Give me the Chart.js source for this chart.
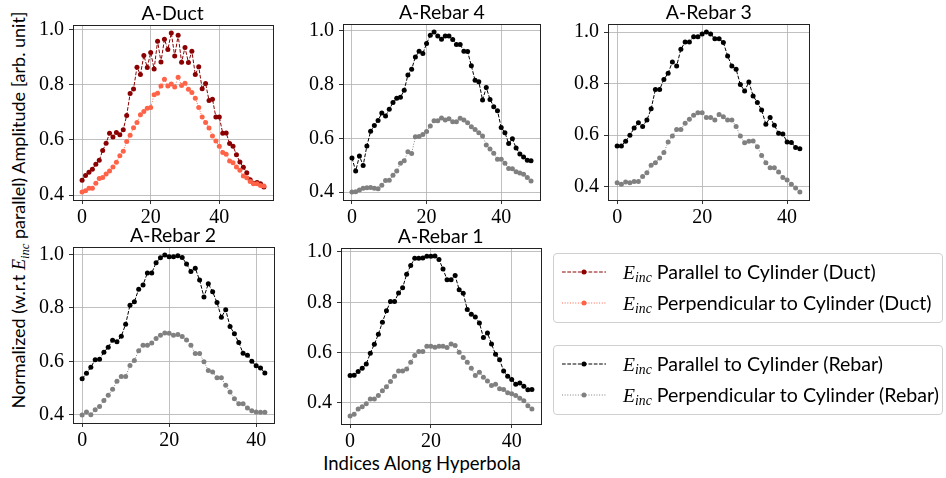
<!DOCTYPE html>
<html>
<head>
<meta charset="utf-8">
<script src="https://cdn.jsdelivr.net/npm/chart.js@4.4.1/dist/chart.umd.min.js"></script>
<style>
  body { margin: 0; background: #fff; width: 946px; height: 478px; position: relative; overflow: hidden; font-family: Lato, "Noto Sans", sans-serif; color: #000; }
  canvas { position: absolute; }
  .title { position: absolute; width: 240px; text-align: center; font-size: 19.5px; line-height: 20px; white-space: nowrap; }
  .ylabel { position: absolute; left: 20px; top: 210px; transform: translate(-50%, -50%) rotate(-90deg); font-size: 18px; white-space: nowrap; }
  .xlabel { position: absolute; left: 422px; top: 452px; transform: translateX(-50%); font-size: 18.5px; white-space: nowrap; }
  .m { font-family: "Liberation Serif", serif; font-style: italic; }
  .m sub { font-size: 0.7em; vertical-align: -0.25em; }
  .legend { position: absolute; left: 553px; width: 388px; border: 1px solid #d0d0d0; border-radius: 4px; }
  .entry { position: absolute; left: 8px; height: 24px; font-size: 19.6px; line-height: 24px; white-space: nowrap; }
  .entry svg { position: absolute; left: 0; top: 7px; }
  .entry span { position: absolute; left: 61px; }
</style>
</head>
<body>
<div class="ylabel">Normalized (w.r.t <span class="m">E<sub>inc</sub></span> parallel) Amplitude [arb. unit]</div>
<div class="xlabel">Indices Along Hyperbola</div>

<script>
// --- DATA ---
const xTicks = [0, 20, 40];
const yTicks = [0.4, 0.6, 0.8, 1.0];
const panelTitles = ["A-Duct", "A-Rebar 4", "A-Rebar 3", "A-Rebar 2", "A-Rebar 1"];
const seriesNames = [
  "Parallel to Cylinder (Duct)",
  "Perpendicular to Cylinder (Duct)",
  "Parallel to Cylinder (Rebar)",
  "Perpendicular to Cylinder (Rebar)",
];

const ductParallel = [0.454, 0.471, 0.483, 0.494, 0.512, 0.526, 0.562, 0.588, 0.624, 0.611, 0.627, 0.619, 0.637, 0.689, 0.768, 0.785, 0.864, 0.837, 0.906, 0.863, 0.917, 0.857, 0.958, 0.883, 0.965, 0.928, 0.988, 0.904, 0.980, 0.882, 0.935, 0.881, 0.922, 0.837, 0.865, 0.786, 0.805, 0.743, 0.748, 0.683, 0.683, 0.624, 0.625, 0.587, 0.577, 0.546, 0.520, 0.501, 0.481, 0.456, 0.443, 0.446, 0.441, 0.429];
const ductPerpendicular = [0.411, 0.416, 0.425, 0.425, 0.443, 0.460, 0.464, 0.476, 0.487, 0.502, 0.519, 0.543, 0.559, 0.594, 0.617, 0.644, 0.663, 0.691, 0.703, 0.715, 0.718, 0.764, 0.769, 0.796, 0.820, 0.796, 0.803, 0.792, 0.827, 0.797, 0.806, 0.784, 0.772, 0.751, 0.718, 0.683, 0.663, 0.643, 0.614, 0.596, 0.577, 0.554, 0.548, 0.524, 0.517, 0.502, 0.490, 0.469, 0.463, 0.449, 0.441, 0.441, 0.435, 0.433];

const rebar4Parallel = [0.527, 0.478, 0.534, 0.499, 0.571, 0.626, 0.648, 0.666, 0.694, 0.683, 0.708, 0.733, 0.749, 0.753, 0.779, 0.836, 0.857, 0.903, 0.924, 0.916, 0.953, 0.984, 0.996, 0.981, 0.969, 0.981, 0.981, 0.968, 0.949, 0.949, 0.924, 0.923, 0.870, 0.816, 0.811, 0.743, 0.789, 0.745, 0.718, 0.703, 0.640, 0.621, 0.581, 0.598, 0.564, 0.542, 0.530, 0.518, 0.516];
const rebar4Perpendicular = [0.400, 0.401, 0.407, 0.414, 0.416, 0.417, 0.414, 0.412, 0.425, 0.443, 0.444, 0.462, 0.478, 0.507, 0.516, 0.550, 0.543, 0.606, 0.607, 0.614, 0.625, 0.646, 0.665, 0.665, 0.676, 0.668, 0.673, 0.662, 0.662, 0.675, 0.668, 0.658, 0.643, 0.633, 0.621, 0.609, 0.575, 0.560, 0.544, 0.522, 0.522, 0.507, 0.488, 0.487, 0.475, 0.471, 0.466, 0.454, 0.441];

const rebar3Parallel = [0.558, 0.558, 0.576, 0.599, 0.627, 0.648, 0.633, 0.658, 0.702, 0.777, 0.777, 0.816, 0.840, 0.884, 0.868, 0.933, 0.961, 0.961, 0.982, 0.982, 0.992, 1.000, 0.992, 0.974, 0.974, 0.959, 0.907, 0.868, 0.855, 0.796, 0.771, 0.806, 0.752, 0.726, 0.697, 0.642, 0.668, 0.638, 0.607, 0.604, 0.573, 0.571, 0.552, 0.547];
const rebar3Perpendicular = [0.415, 0.409, 0.418, 0.415, 0.420, 0.420, 0.439, 0.454, 0.483, 0.493, 0.511, 0.532, 0.573, 0.596, 0.622, 0.622, 0.646, 0.661, 0.677, 0.687, 0.687, 0.668, 0.668, 0.658, 0.680, 0.671, 0.658, 0.658, 0.633, 0.596, 0.570, 0.576, 0.577, 0.555, 0.521, 0.493, 0.473, 0.473, 0.457, 0.435, 0.426, 0.409, 0.395, 0.379];

const rebar2Parallel = [0.535, 0.555, 0.578, 0.606, 0.608, 0.634, 0.653, 0.679, 0.673, 0.694, 0.739, 0.810, 0.823, 0.870, 0.886, 0.931, 0.931, 0.969, 0.988, 0.998, 0.991, 0.991, 0.995, 0.989, 0.964, 0.936, 0.948, 0.904, 0.841, 0.890, 0.860, 0.820, 0.765, 0.793, 0.730, 0.703, 0.670, 0.630, 0.623, 0.600, 0.583, 0.575, 0.556];
const rebar2Perpendicular = [0.399, 0.410, 0.400, 0.419, 0.431, 0.453, 0.473, 0.495, 0.525, 0.543, 0.543, 0.584, 0.603, 0.640, 0.660, 0.660, 0.669, 0.685, 0.698, 0.706, 0.705, 0.698, 0.700, 0.693, 0.680, 0.660, 0.629, 0.629, 0.598, 0.566, 0.560, 0.538, 0.538, 0.510, 0.485, 0.460, 0.441, 0.441, 0.425, 0.415, 0.410, 0.409, 0.409];

const rebar1Parallel = [0.509, 0.510, 0.525, 0.538, 0.555, 0.597, 0.633, 0.673, 0.721, 0.766, 0.803, 0.803, 0.837, 0.858, 0.911, 0.946, 0.975, 0.975, 0.976, 0.983, 0.983, 0.984, 0.970, 0.932, 0.890, 0.890, 0.906, 0.850, 0.836, 0.771, 0.752, 0.742, 0.718, 0.660, 0.678, 0.634, 0.593, 0.572, 0.527, 0.506, 0.493, 0.474, 0.479, 0.466, 0.452, 0.453];
const rebar1Perpendicular = [0.348, 0.355, 0.376, 0.385, 0.397, 0.416, 0.416, 0.429, 0.448, 0.464, 0.485, 0.506, 0.527, 0.527, 0.535, 0.562, 0.588, 0.604, 0.604, 0.625, 0.625, 0.621, 0.625, 0.625, 0.620, 0.634, 0.628, 0.601, 0.581, 0.562, 0.538, 0.509, 0.522, 0.502, 0.487, 0.469, 0.474, 0.456, 0.453, 0.440, 0.436, 0.429, 0.419, 0.409, 0.389, 0.376];
// -----------------------------------

const ductColors = ["#8b0000", "#ff6347"];
const rebarColors = ["#000000", "#808080"];
const DASHED = [3.7, 1.6];
const DOTTED = [1, 1.65];

// plot areas (left, top, right, bottom) in page pixels
const panels = [
  { title: panelTitles[0], par: ductParallel, perp: ductPerpendicular, colors: ductColors, box: [72.6, 25, 272.6, 199.5] },
  { title: panelTitles[1], par: rebar4Parallel, perp: rebar4Perpendicular, colors: rebarColors, box: [343.3, 24.3, 540.5, 200] },
  { title: panelTitles[2], par: rebar3Parallel, perp: rebar3Perpendicular, colors: rebarColors, box: [608.3, 24.3, 809.3, 200] },
  { title: panelTitles[3], par: rebar2Parallel, perp: rebar2Perpendicular, colors: rebarColors, box: [72.7, 247.3, 273.3, 423.3] },
  { title: panelTitles[4], par: rebar1Parallel, perp: rebar1Perpendicular, colors: rebarColors, box: [340.7, 247.7, 540.7, 423.3] },
];

// --- full box around the plot area (matplotlib spines) ---
const frame = {
  id: "frame",
  afterDatasetsDraw(chart) {
    const { ctx, chartArea: a } = chart;
    ctx.save();
    ctx.strokeStyle = "#222";
    ctx.lineWidth = 1;
    ctx.strokeRect(Math.round(a.left) + 0.5, Math.round(a.top) + 0.5, Math.round(a.right - a.left), Math.round(a.bottom - a.top));
    ctx.restore();
  },
};

const tickFont = { family: "Liberation Serif", size: 20 };

function buildConfig(p) {
  const n = p.par.length;
  const xm = 0.05 * (n - 1);
  const all = p.par.concat(p.perp);
  const lo = Math.min(...all), hi = Math.max(...all);
  const ym = 0.05 * (hi - lo);
  const ds = (vals, color, dash, label) => ({
    label,
    data: vals.map((v, i) => ({ x: i, y: v })),
    borderColor: color,
    backgroundColor: color,
    borderWidth: 1,
    borderDash: dash,
    pointRadius: 2.5,
    pointBorderWidth: 0,
    pointHoverRadius: 2.5,
    tension: 0,
  });
  return {
    type: "line",
    data: {
      datasets: [
        ds(p.perp, p.colors[1], DOTTED, "perpendicular"),
        ds(p.par, p.colors[0], DASHED, "parallel"),
      ],
    },
    options: {
      responsive: false,
      maintainAspectRatio: false,
      animation: false,
      events: [],
      layout: { padding: { left: 4, right: 14, top: 12, bottom: 2 } },
      plugins: { legend: { display: false }, tooltip: { enabled: false } },
      scales: {
        x: {
          type: "linear",
          min: -xm,
          max: n - 1 + xm,
          afterBuildTicks: (s) => { s.ticks = xTicks.map((v) => ({ value: v })); },
          afterFit: (s) => { s.height = 28; },
          ticks: { font: tickFont, color: "#000", padding: 2, maxRotation: 0, autoSkip: false, callback: (v) => String(v) },
          grid: { color: "#b0b0b0", lineWidth: 0.8, tickLength: 4, tickColor: "#000" },
          border: { display: false },
        },
        y: {
          type: "linear",
          min: lo - ym,
          max: hi + ym,
          afterBuildTicks: (s) => { s.ticks = yTicks.map((v) => ({ value: v })); },
          afterFit: (s) => { s.width = 40; },
          ticks: { font: tickFont, color: "#000", padding: 5, autoSkip: false, callback: (v) => v.toFixed(1) },
          grid: { color: "#b0b0b0", lineWidth: 0.8, tickLength: 4, tickColor: "#000" },
          border: { display: false },
        },
      },
    },
    plugins: [frame],
  };
}

function setSize(canvas, w, h) {
  canvas.setAttribute("width", w);
  canvas.setAttribute("height", h);
  canvas.style.width = w + "px";
  canvas.style.height = h + "px";
}

panels.forEach((p) => {
  const [L, T, R, B] = p.box;
  const canvas = document.createElement("canvas");
  document.body.appendChild(canvas);
  setSize(canvas, 300, 260);

  // first pass: measure what the axes take around the plot area
  let chart = new Chart(canvas, buildConfig(p));
  const a = chart.chartArea;
  const w = Math.round(300 - (a.right - a.left) + (R - L));
  const h = Math.round(260 - (a.bottom - a.top) + (B - T));
  chart.destroy();

  setSize(canvas, w, h);
  chart = new Chart(canvas, buildConfig(p));
  const b = chart.chartArea;
  canvas.style.left = Math.round(L - b.left) + "px";
  canvas.style.top = Math.round(T - b.top) + "px";

  const t = document.createElement("div");
  t.className = "title";
  t.textContent = p.title;
  t.style.left = ((L + R) / 2 - 120) + "px";
  t.style.top = (T - 22) + "px";
  document.body.appendChild(t);
});

// --- legends ---
function sample(color, dash) {
  return `<svg width="44" height="10"><line x1="0" y1="5" x2="44" y2="5" stroke="${color}" stroke-width="1" stroke-dasharray="${dash.join(",")}"/><circle cx="22" cy="5" r="2.5" fill="${color}"/></svg>`;
}
function legend(top, entries) {
  const box = document.createElement("div");
  box.className = "legend";
  box.style.top = top + "px";
  box.style.height = "68px";
  entries.forEach((e, i) => {
    const row = document.createElement("div");
    row.className = "entry";
    row.style.top = (6 + i * 31) + "px";
    row.innerHTML = sample(e.color, e.dash) + `<span><span class="m" style="position:static">E<sub>inc</sub></span> ${e.name}</span>`;
    box.appendChild(row);
  });
  document.body.appendChild(box);
}
legend(253, [
  { name: seriesNames[0], color: ductColors[0], dash: DASHED },
  { name: seriesNames[1], color: ductColors[1], dash: DOTTED },
]);
legend(345, [
  { name: seriesNames[2], color: rebarColors[0], dash: DASHED },
  { name: seriesNames[3], color: rebarColors[1], dash: DOTTED },
]);
</script>
</body>
</html>
